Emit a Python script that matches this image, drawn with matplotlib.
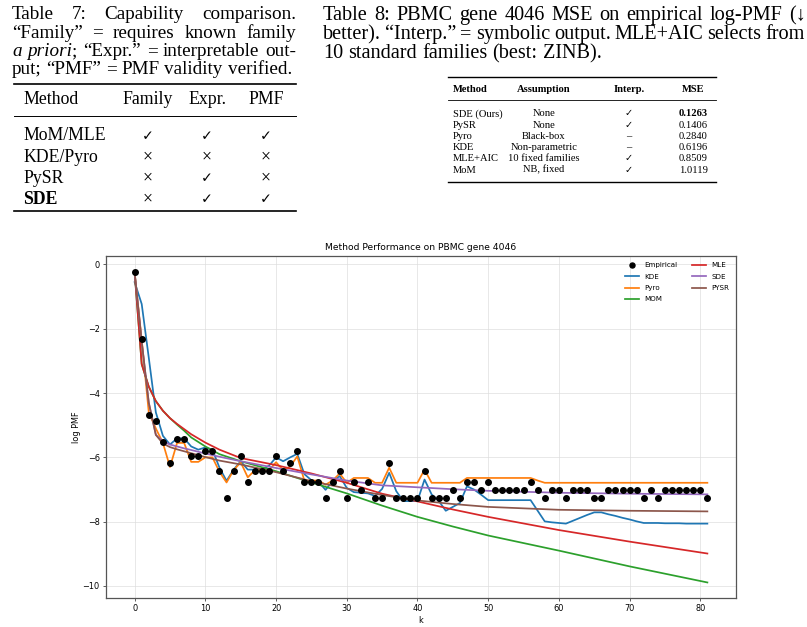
import matplotlib
matplotlib.use('Agg')
import matplotlib.pyplot as plt
from matplotlib.lines import Line2D
import numpy as np

# ---------------- data ----------------
k = list(range(82))
empirical = [-0.22, -2.33, -4.69, -4.86, -5.53, -6.18, -5.42, -5.42, -5.96, -5.96,
             -5.80, -5.80, -6.42, -7.26, -6.42, -5.96, -6.76, -6.42, -6.42, -6.42,
             -5.96, -6.42, -6.18, -5.80, -6.76, -6.76, -6.76, -7.26, -6.76, -6.42,
             -7.26, -6.76, -7.01, -6.76, -7.26, -7.26, -6.18, -7.26, -7.26, -7.26,
             -7.26, -6.42, -7.26, -7.26, -7.26, -7.01, -7.26, -6.76, -6.76, -7.01,
             -6.76, -7.01, -7.01, -7.01, -7.01, -7.01, -6.76, -7.01, -7.26, -7.01,
             -7.01, -7.26, -7.01, -7.01, -7.01, -7.26, -7.26, -7.01, -7.01, -7.01,
             -7.01, -7.01, -7.26, -7.01, -7.26, -7.01, -7.01, -7.01, -7.01, -7.01,
             -7.01, -7.26]
kde = [-0.55, -1.23, -2.90, -4.60, -5.33, -5.60, -5.41, -5.41, -5.66, -5.76,
       -5.69, -5.76, -6.32, -6.73, -6.38, -6.12, -6.38, -6.38, -6.38, -6.26,
       -6.00, -6.12, -6.00, -5.89, -6.52, -6.71, -6.76, -7.01, -6.74, -6.58,
       -6.95, -7.08, -7.10, -7.12, -7.20, -6.98, -6.48, -7.05, -7.36, -7.36,
       -7.36, -6.69, -7.15, -7.35, -7.66, -7.54, -7.42, -6.90, -7.00, -7.16,
       -7.33, -7.33, -7.33, -7.33, -7.33, -7.33, -7.33, -7.66, -7.99, -8.02,
       -8.04, -8.06, -7.97, -7.88, -7.79, -7.71, -7.71, -7.77, -7.82, -7.88,
       -7.93, -7.99, -8.04, -8.04, -8.04, -8.05, -8.05, -8.05, -8.06, -8.06,
       -8.06, -8.06]
pyro = [-0.25, -2.35, -4.60, -5.10, -5.55, -6.30, -5.55, -5.55, -6.14, -6.14,
        -6.00, -6.00, -6.45, -6.78, -6.40, -6.15, -6.62, -6.40, -6.40, -6.40,
        -6.15, -6.40, -6.28, -5.97, -6.72, -6.72, -6.72, -6.85, -6.72, -6.50,
        -6.79, -6.64, -6.64, -6.64, -6.79, -6.79, -6.32, -6.79, -6.79, -6.79,
        -6.79, -6.38, -6.79, -6.79, -6.79, -6.79, -6.79, -6.64, -6.64, -6.64,
        -6.64, -6.64, -6.64, -6.64, -6.64, -6.64, -6.64, -6.72, -6.79, -6.79,
        -6.79, -6.79, -6.79, -6.79, -6.79, -6.79, -6.79, -6.79, -6.79, -6.79,
        -6.79, -6.79, -6.79, -6.79, -6.79, -6.79, -6.79, -6.79, -6.79, -6.79,
        -6.79, -6.79]
k_curve = [0, 1, 2, 3, 4, 5, 6, 7, 8, 10, 12, 15, 20, 25, 30, 35, 40, 45, 50, 60, 70, 81]
mom = [-0.25, -3.10, -3.80, -4.25, -4.55, -4.78, -4.98, -5.17, -5.38, -5.66, -5.90,
       -6.12, -6.43, -6.78, -7.12, -7.50, -7.85, -8.15, -8.43, -8.90, -9.39, -9.89]
mle = [-0.25, -3.10, -3.80, -4.25, -4.55, -4.78, -4.96, -5.12, -5.28, -5.54, -5.76,
       -6.02, -6.24, -6.50, -6.79, -7.13, -7.37, -7.62, -7.85, -8.26, -8.62, -8.99]
sde = [-0.25, -2.40, -4.30, -5.30, -5.50, -5.60, -5.66, -5.72, -5.77, -5.88, -5.98,
       -6.12, -6.33, -6.53, -6.72, -6.87, -6.93, -6.99, -7.04, -7.10, -7.13, -7.15]
pysr = [-0.25, -2.40, -4.30, -5.30, -5.57, -5.68, -5.75, -5.81, -5.87, -5.99, -6.10,
        -6.22, -6.46, -6.74, -6.97, -7.17, -7.34, -7.45, -7.54, -7.63, -7.66, -7.68]

xticks = [0, 10, 20, 30, 40, 50, 60, 70, 80]
yticks = [0, -2, -4, -6, -8, -10]

t7_cols = ["Method", "Family", "Expr.", "PMF"]
t7_methods = ["MoM/MLE", "KDE/Pyro", "PySR", "SDE"]
t7_marks = [["yes", "yes", "yes"], ["no", "no", "no"], ["no", "yes", "no"], ["no", "yes", "yes"]]

t8_cols = ["Method", "Assumption", "Interp.", "MSE"]
t8_methods = ["SDE (Ours)", "PySR", "Pyro", "KDE", "MLE+AIC", "MoM"]
t8_assump = ["None", "None", "Black-box", "Non-parametric", "10 fixed families", "NB, fixed"]
t8_interp = ["yes", "yes", "dash", "dash", "yes", "yes"]
t8_mse = ["0.1263", "0.1406", "0.2840", "0.6196", "0.8509", "1.0119"]

# ---------------- figure ----------------
W, H = 807, 627
fig = plt.figure(figsize=(W / 100, H / 100), dpi=100)
renderer = fig.canvas.get_renderer()
SERIF = ['Liberation Serif', 'DejaVu Serif', 'DejaVu Sans']


def fx(x):
    return x / W


def fy(y):
    return 1 - y / H


def txt(x, y, s, size, ha='left', style='normal', weight='normal', family=None):
    return fig.text(fx(x), fy(y), s, fontsize=size, family=family or SERIF,
                    style=style, weight=weight, ha=ha, va='baseline')


def wid(t):
    return t.get_window_extent(renderer).width


def jline(words, x0, x1, y, size, justify=True):
    groups, widths = [], []
    for w in words:
        segs, tot = [], 0
        for piece in w:
            s, st = piece if isinstance(piece, tuple) else (piece, 'normal')
            t = fig.text(0, 0, s, fontsize=size, family=SERIF, style=st, va='baseline')
            wd = wid(t)
            segs.append((t, wd))
            tot += wd
        groups.append(segs)
        widths.append(tot)
    if justify and len(words) > 1:
        gap = (x1 - x0 - sum(widths)) / (len(words) - 1)
    else:
        a = fig.text(0, 0, "a a", fontsize=size, family=SERIF)
        b = fig.text(0, 0, "aa", fontsize=size, family=SERIF)
        gap = wid(a) - wid(b)
        a.remove(); b.remove()
    x = x0
    for segs, tw in zip(groups, widths):
        xx = x
        for t, wd in segs:
            t.set_position((fx(xx), fy(y)))
            xx += wd
        x += tw + gap


def rule(x0, x1, y, lw):
    fig.add_artist(Line2D([fx(x0), fx(x1)], [fy(y), fy(y)], transform=fig.transFigure,
                          color='black', lw=lw))


MARK = {"yes": "\u2713", "no": "\u00d7", "dash": "\u2013"}

# ---- Table 7 ----
cs = 13.8
jline([["Table"], ["7:"], ["Capability"], ["comparison."]], 12, 296, 19, cs)
jline([["\u201cFamily\u201d"], ["="], ["requires"], ["known"], ["family"]], 12, 296, 37.5, cs)
jline([[("a", 'italic')], [("priori", 'italic'), ";"], ["\u201cExpr.\u201d"], ["="],
       ["interpretable"], ["out-"]], 12, 296, 56, cs)
jline([["put;"], ["\u201cPMF\u201d"], ["="], ["PMF"], ["validity"], ["verified."]], 12, 292, 74.5, cs,
      justify=False)

ts = 12.8
rule(14, 296, 84, 1.2)
col_x7 = [23, 148, 207, 266]
txt(col_x7[0], 104, t7_cols[0], ts)
for cx, c in zip(col_x7[1:], t7_cols[1:]):
    txt(cx, 104, c, ts, ha='center')
rule(14, 296, 116, 0.7)
for i, (m, marks) in enumerate(zip(t7_methods, t7_marks)):
    yb = 140.5 + i * 21
    txt(col_x7[0], yb, m, ts, weight='bold' if m == "SDE" else 'normal')
    for cx, mk in zip(col_x7[1:], marks):
        if mk == "yes":
            txt(cx, yb, MARK[mk], ts - 2.5, ha='center', family=['DejaVu Sans'])
        else:
            txt(cx, yb, MARK[mk], ts, ha='center')
rule(14, 296, 211, 1.2)

# ---- Table 8 ----
c8 = 14.6
jline([["Table"], ["8:"], ["PBMC"], ["gene"], ["4046"], ["MSE"], ["on"], ["empirical"],
       ["log-PMF"], ["(\u2193"]], 323, 806, 20, c8)
jline([["better)."], ["\u201cInterp.\u201d"], ["="], ["symbolic"], ["output."], ["MLE+AIC"],
       ["selects"], ["from"]], 323, 805, 39, c8)
jline([["10"], ["standard"], ["families"], ["(best:"], ["ZINB)."]], 323, 600, 58, c8, justify=False)

s8 = 7.6
rule(448, 716, 77, 1.0)
col_x8 = [453, 544, 629, 693]
txt(col_x8[0], 92.5, t8_cols[0], s8, weight='bold')
for cx, c in zip(col_x8[1:], t8_cols[1:]):
    txt(cx, 92.5, c, s8, ha='center', weight='bold')
rule(448, 716, 100, 0.6)
for i in range(len(t8_methods)):
    yb = 116.5 + i * 11.2
    txt(col_x8[0], yb, t8_methods[i], s8)
    txt(col_x8[1], yb, t8_assump[i], s8, ha='center')
    if t8_interp[i] == "yes":
        txt(col_x8[2], yb, MARK["yes"], s8 - 0.6, ha='center', family=['DejaVu Sans'])
    else:
        txt(col_x8[2], yb, MARK["dash"], s8, ha='center')
    txt(col_x8[3], yb, t8_mse[i], s8, ha='center', weight='bold' if i == 0 else 'normal')
rule(448, 716, 182, 1.0)

# ---- Chart ----
ax = fig.add_axes([106 / W, (H - 598) / H, 630 / W, 342 / H])
lw = 1.25
ax.plot(k, empirical, 'o', color='black', ms=4, label='Empirical', zorder=5)
ax.plot(k, kde, color='tab:blue', lw=lw, label='KDE')
ax.plot(k, pyro, color='tab:orange', lw=lw, label='Pyro')
ax.plot(k_curve, mom, color='tab:green', lw=lw, label='MOM')
ax.plot(k_curve, mle, color='tab:red', lw=lw, label='MLE')
ax.plot(k_curve, sde, color='tab:purple', lw=lw, label='SDE')
ax.plot(k_curve, pysr, color='tab:brown', lw=lw, label='PYSR')

fs = 5.9
ax.set_xticks(xticks)
ax.set_yticks(yticks)
ax.tick_params(labelsize=fs, length=2.5, width=0.6, pad=2, color='#444444')
ax.grid(True, color='#dddddd', lw=0.6, alpha=0.8)
ax.set_axisbelow(True)
for sp in ax.spines.values():
    sp.set_color('#555555')
    sp.set_linewidth(0.9)
ax.set_title('Method Performance on PBMC gene 4046', fontsize=6.6, pad=4)
ax.set_xlabel('k', fontsize=fs, labelpad=2)
ax.set_ylabel('log PMF', fontsize=fs, labelpad=1)
ax.legend(loc='upper right', ncol=2, frameon=False, fontsize=5.1, labelspacing=0.75,
          handlelength=2.0, columnspacing=2.0, markerscale=0.9)

fig.savefig('out.png', dpi=100)
